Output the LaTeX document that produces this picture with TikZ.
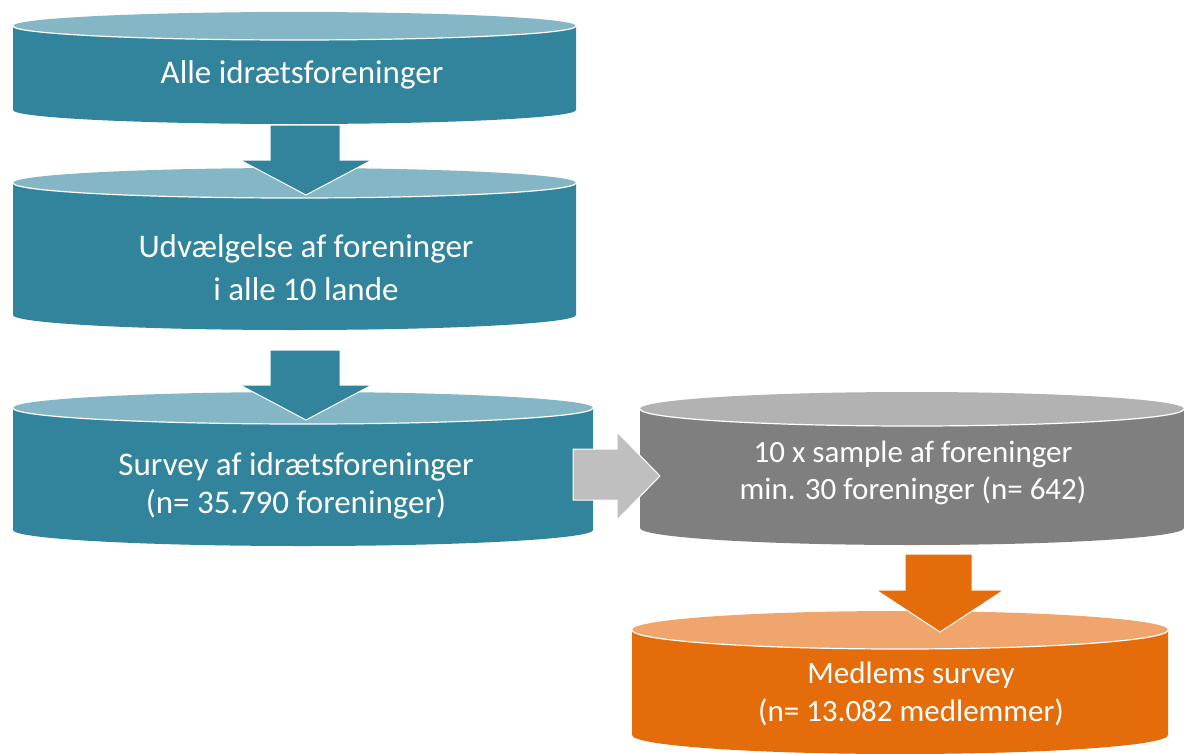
\documentclass[tikz,border=0pt]{standalone}
\usepackage{fontspec}
\setmainfont{Carlito}
\definecolor{tealbody}{HTML}{31849B}
\definecolor{tealtop}{HTML}{84B6C5}
\definecolor{graybody}{HTML}{7F7F7F}
\definecolor{graytop}{HTML}{B2B2B2}
\definecolor{grayarrow}{HTML}{BFBFBF}
\definecolor{orangebody}{HTML}{E46C0A}
\definecolor{orangetop}{HTML}{F0A56C}
% x1 x2 ytop ybot ry bodycolor topcolor
\newcommand\mycyl[7]{%
  \pgfmathsetmacro\myrx{(#2-#1)/2}%
  \fill[#6] (#1,-#3) -- (#1,-#4) arc[start angle=180,end angle=360,x radius=\myrx,y radius=#5] -- (#2,-#3) -- cycle;
  \fill[#7] ({(#1+#2)/2},-#3) ellipse [x radius=\myrx, y radius=#5];
  \draw[white,line width=1.2] (#1,-#3) arc[start angle=180,end angle=360,x radius=\myrx,y radius=#5];
}
\begin{document}
\begin{tikzpicture}[x=1pt,y=1pt,
  txt/.style={text=white,align=center,font=\fontsize{33}{38}\selectfont},
  txtwide/.style={text=white,align=center,font=\fontsize{33}{43}\selectfont},
  txts/.style={text=white,align=center,font=\fontsize{31}{37.5}\selectfont},
  blockarrow/.style={draw=white,line width=1,line join=miter}]
\useasboundingbox (0,0) rectangle (1184,-753);
\fill[white] (0,0) rectangle (1184,-753);

% cylinders
\mycyl{13}{576}{26}{110}{14}{tealbody}{tealtop}
\mycyl{13}{576}{183}{315}{15}{tealbody}{tealtop}
\mycyl{13}{593}{408}{530}{16}{tealbody}{tealtop}
\mycyl{640}{1184}{409}{528}{17}{graybody}{graytop}
\mycyl{632}{1168}{630}{735}{19}{orangebody}{orangetop}

% block arrows
\fill[tealbody,blockarrow] (270,-125) -- (340,-125) -- (340,-160) -- (372,-160) -- (306,-195) -- (240,-160) -- (270,-160) -- cycle;
\fill[tealbody,blockarrow] (270,-350) -- (340,-350) -- (340,-385) -- (372,-385) -- (306,-420) -- (240,-385) -- (270,-385) -- cycle;
\fill[grayarrow,blockarrow] (573,-449) -- (617,-449) -- (617,-432) -- (660,-476) -- (617,-520) -- (617,-500) -- (573,-500) -- cycle;
\fill[orangebody,blockarrow] (905,-554) -- (972,-554) -- (972,-590) -- (1004,-590) -- (940,-632) -- (876,-590) -- (905,-590) -- cycle;

% texts
\node[txt] (t1) at (302,-75) {Alle idrætsforeninger};
\node[txtwide] (t2) at (306,-268) {Udvælgelse af foreninger\\i alle 10 lande};
\node[txt] (t3) at (296,-486) {Survey af idrætsforeninger\\(n= 35.790 foreninger)};
\node[txts] (t4) at (913,-473) {10 x sample af foreninger\\min. 30 foreninger (n= 642)};
\node[txts] (t5) at (911,-694) {Medlems survey\\(n= 13.082 medlemmer)};
\end{tikzpicture}
\end{document}
